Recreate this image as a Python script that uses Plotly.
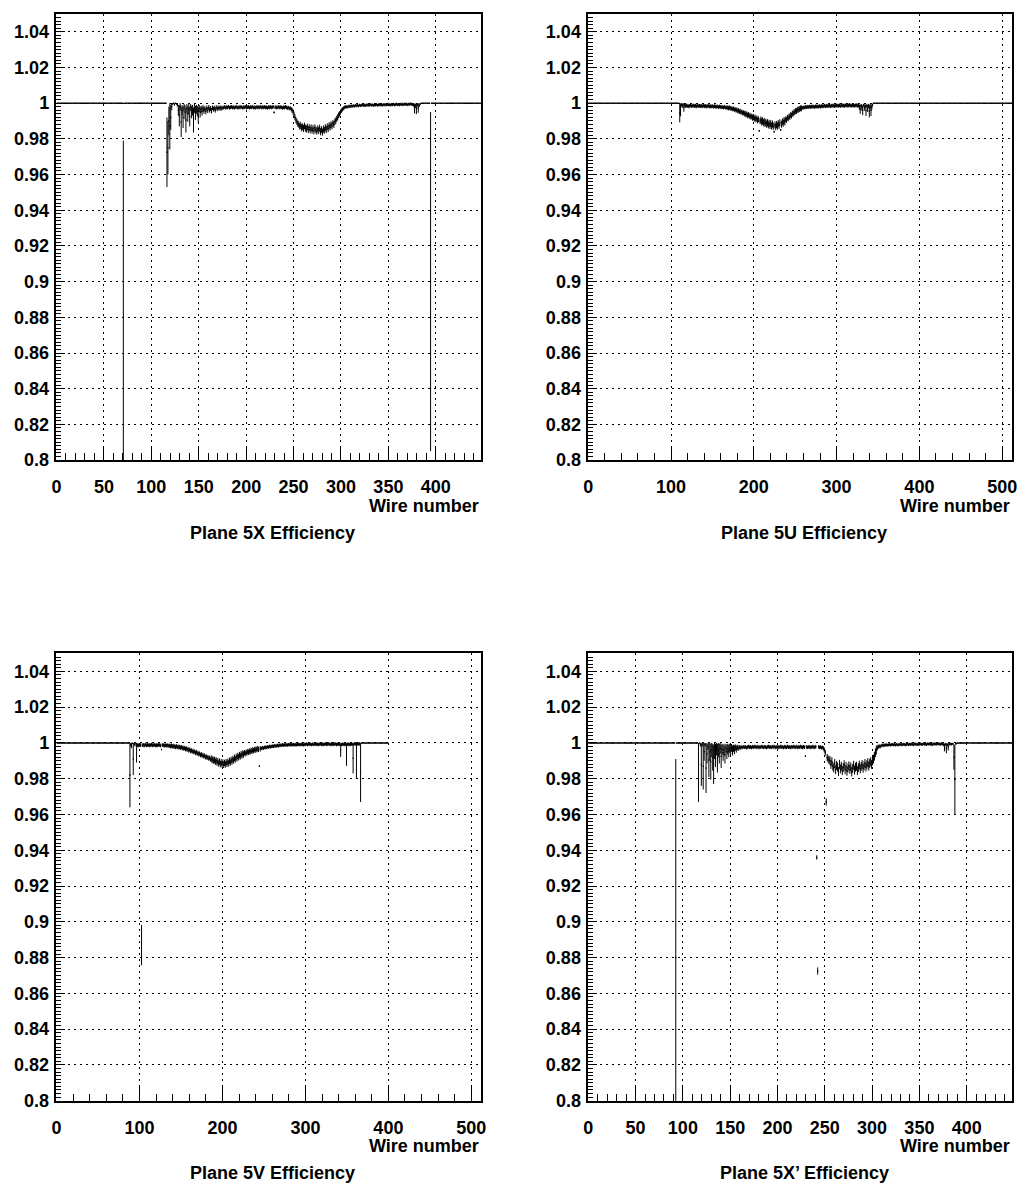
import plotly.graph_objects as go

# ---------------- data (efficiency and error in units of 1e-4) ----------------
# Plane 5X : 448 wires, efficiency 1 outside the listed range
x5_nwires = 448
x5_start = 115
x5_eff = [
    10000, 9725, 9750, 9900, 9870, 9920, 9980, 9995, 10000, 9993,
    10000, 9996, 9990, 9960, 9930, 9980, 9895, 9960, 9920, 9975,
    9950, 9905, 9970, 9940, 9965, 9925, 9975, 9950, 9960, 9905,
    9970, 9945, 9965, 9955, 9935, 9970, 9950, 9965, 9955, 9970,
    9960, 9968, 9955, 9972, 9960, 9975, 9962, 9970, 9958, 9974,
    9966, 9972, 9962, 9976, 9968, 9974, 9970, 9977, 9968, 9975,
    9972, 9976, 9979, 9973, 9978, 9975, 9980, 9974, 9977, 9979,
    9975, 9978, 9973, 9977, 9980, 9976, 9974, 9978, 9975, 9979,
    9977, 9973, 9978, 9976, 9980, 9975, 9977, 9979, 9974, 9978,
    9976, 9980, 9975, 9977, 9973, 9978, 9976, 9979, 9975, 9977,
    9980, 9974, 9978, 9976, 9979, 9975, 9977, 9973, 9978, 9976,
    9979, 9975, 9977, 9980, 9948, 9976, 9978, 9974, 9977, 9979,
    9975, 9978, 9976, 9973, 9977, 9975, 9979, 9976, 9972, 9975,
    9970, 9972, 9966, 9960, 9950, 9935, 9920, 9905, 9895, 9885,
    9880, 9870, 9875, 9862, 9868, 9858, 9872, 9860, 9855, 9866,
    9852, 9863, 9850, 9861, 9848, 9858, 9845, 9862, 9850, 9843,
    9856, 9847, 9860, 9840, 9852, 9838, 9855, 9848, 9862, 9852,
    9868, 9858, 9874, 9866, 9880, 9872, 9888, 9880, 9895, 9902,
    9912, 9920, 9932, 9940, 9950, 9958, 9965, 9970, 9975, 9978,
    9980, 9977, 9982, 9979, 9984, 9981, 9985, 9982, 9986, 9983,
    9987, 9985, 9988, 9984, 9989, 9986, 9988, 9990, 9987, 9989,
    9986, 9990, 9988, 9991, 9987, 9989, 9992, 9988, 9990, 9987,
    9991, 9989, 9992, 9988, 9990, 9993, 9989, 9991, 9988, 9992,
    9990, 9993, 9989, 9991, 9994, 9990, 9992, 9989, 9993, 9991,
    9994, 9990, 9992, 9995, 9991, 9993, 9990, 9994, 9992, 9995,
    9991, 9993, 9996, 9992, 9994, 9991, 9995, 9993, 9996, 9994,
    9992, 9990, 9970, 9985, 9968, 9990, 9972, 9988, 9995, 10000,
    10000, 10000, 10000, 10000, 10000, 10000, 10000, 10000, 10000, 9000,
]
x5_err = [
    0, 195, 150, 80, 130, 70, 20, 5, 0, 7,
    0, 4, 10, 30, 60, 20, 85, 30, 60, 20,
    40, 70, 25, 45, 30, 55, 20, 35, 30, 70,
    25, 40, 25, 30, 45, 20, 30, 20, 25, 20,
    20, 15, 18, 15, 16, 14, 15, 14, 16, 13,
    14, 13, 15, 12, 13, 12, 12, 11, 12, 11,
    10, 10, 10, 10, 10, 10, 10, 10, 10, 10,
    10, 10, 10, 10, 10, 10, 10, 10, 10, 10,
    10, 10, 10, 10, 10, 10, 10, 10, 10, 10,
    10, 10, 10, 10, 10, 10, 10, 10, 10, 10,
    10, 10, 10, 10, 10, 10, 10, 10, 10, 10,
    10, 10, 10, 10, 5, 10, 10, 10, 10, 10,
    10, 10, 10, 10, 10, 10, 10, 10, 10, 10,
    10, 10, 12, 14, 15, 16, 16, 17, 17, 18,
    18, 19, 19, 20, 19, 20, 19, 20, 20, 19,
    20, 19, 20, 20, 19, 20, 20, 19, 20, 20,
    19, 20, 20, 20, 19, 20, 20, 19, 20, 20,
    19, 20, 19, 20, 19, 19, 18, 19, 18, 18,
    17, 17, 16, 15, 14, 13, 12, 11, 10, 10,
    8, 8, 8, 8, 8, 8, 8, 8, 8, 8,
    8, 8, 8, 8, 8, 8, 8, 8, 8, 8,
    8, 8, 8, 8, 8, 8, 8, 8, 8, 8,
    8, 8, 8, 8, 8, 8, 8, 8, 8, 8,
    8, 8, 8, 8, 8, 8, 8, 8, 8, 8,
    8, 8, 8, 8, 8, 8, 8, 8, 8, 8,
    8, 8, 8, 8, 8, 8, 8, 8, 8, 8,
    8, 10, 28, 12, 30, 10, 26, 10, 5, 0,
    0, 0, 0, 0, 0, 0, 0, 0, 0, 950,
]
x5_extra_wire = [70]
x5_extra_eff = [8800]
x5_extra_err = [990]

# Plane 5U : 512 wires
u5_nwires = 512
u5_start = 108
u5_eff = [
    10000, 10000, 9945, 9962, 9990, 9985, 9993, 9975, 9988, 9984,
    9987, 9983, 9986, 9981, 9985, 9988, 9982, 9986, 9984, 9987,
    9983, 9986, 9981, 9985, 9987, 9982, 9985, 9983, 9986, 9981,
    9984, 9986, 9982, 9985, 9980, 9984, 9982, 9985, 9981, 9983,
    9980, 9984, 9982, 9979, 9983, 9981, 9978, 9982, 9980, 9977,
    9981, 9979, 9976, 9980, 9977, 9975, 9979, 9976, 9973, 9977,
    9974, 9971, 9975, 9972, 9968, 9971, 9966, 9969, 9963, 9966,
    9960, 9963, 9956, 9959, 9952, 9955, 9948, 9951, 9944, 9947,
    9940, 9943, 9935, 9939, 9931, 9935, 9927, 9931, 9922, 9926,
    9918, 9922, 9913, 9918, 9909, 9914, 9904, 9910, 9845, 9900,
    9905, 9895, 9901, 9890, 9897, 9886, 9893, 9882, 9890, 9878,
    9887, 9875, 9885, 9872, 9882, 9870, 9840, 9878, 9868, 9880,
    9872, 9885, 9876, 9890, 9850, 9882, 9895, 9888, 9902, 9895,
    9910, 9905, 9918, 9914, 9926, 9922, 9934, 9930, 9942, 9940,
    9950, 9948, 9957, 9955, 9963, 9961, 9968, 9966, 9972, 9970,
    9975, 9973, 9977, 9975, 9979, 9976, 9980, 9977, 9979, 9981,
    9978, 9980, 9982, 9979, 9981, 9978, 9982, 9980, 9983, 9979,
    9981, 9984, 9980, 9982, 9985, 9981, 9983, 9986, 9982, 9984,
    9986, 9983, 9985, 9987, 9982, 9986, 9984, 9987, 9985, 9983,
    9986, 9988, 9984, 9987, 9985, 9988, 9983, 9986, 9989, 9985,
    9987, 9984, 9988, 9986, 9989, 9985, 9987, 9990, 9986, 9988,
    9984, 9989, 9987, 9985, 9988, 9986, 9990, 9984, 9987, 9978,
    9965, 9985, 9975, 9960, 9988, 9975, 9982, 9958, 9986, 9970,
    9984, 9955, 9980, 9960, 9978, 9990, 10000, 10000,
]
u5_err = [
    0, 0, 53, 36, 10, 12, 7, 23, 10, 10,
    10, 10, 10, 10, 10, 10, 10, 10, 10, 10,
    10, 10, 10, 10, 10, 10, 10, 10, 10, 10,
    10, 10, 10, 10, 10, 10, 10, 10, 10, 10,
    10, 10, 10, 10, 10, 10, 10, 10, 10, 10,
    10, 10, 10, 10, 10, 10, 10, 10, 10, 10,
    12, 12, 12, 12, 12, 12, 12, 12, 12, 12,
    13, 13, 13, 13, 13, 13, 13, 13, 13, 13,
    15, 15, 15, 15, 15, 15, 15, 15, 15, 15,
    17, 17, 17, 17, 17, 17, 17, 17, 5, 17,
    20, 20, 20, 20, 20, 20, 20, 20, 20, 20,
    20, 20, 20, 20, 20, 20, 5, 20, 20, 20,
    20, 20, 20, 20, 5, 20, 20, 20, 20, 20,
    16, 16, 16, 16, 16, 16, 16, 16, 16, 16,
    16, 16, 16, 16, 16, 16, 16, 16, 16, 16,
    10, 10, 10, 10, 10, 10, 10, 10, 10, 10,
    10, 10, 10, 10, 10, 10, 10, 10, 10, 10,
    10, 10, 10, 10, 10, 10, 10, 10, 10, 10,
    10, 10, 10, 10, 10, 10, 10, 10, 10, 10,
    10, 10, 10, 10, 10, 10, 10, 10, 10, 10,
    10, 10, 10, 10, 10, 10, 10, 10, 10, 10,
    10, 10, 10, 10, 10, 10, 10, 10, 10, 15,
    25, 10, 18, 28, 8, 18, 12, 30, 10, 20,
    12, 35, 15, 32, 15, 8, 0, 0,
]

# Plane 5V : axis 512 wires, data only on wires 0..399
v5_nwires = 512
v5_ndata = 400
v5_start = 86
v5_eff = [
    10000, 10000, 9820, 9990, 9985, 10000, 9910, 9995, 9990, 10000,
    9945, 9988, 9985, 9990, 9986, 9989, 8870, 9987, 9990, 9985,
    9988, 9991, 9986, 9989, 9987, 9990, 9985, 9988, 9991, 9986,
    9989, 9987, 9990, 9985, 9988, 9986, 9990, 9987, 9989, 9985,
    9963, 9988, 9986, 9989, 9984, 9987, 9985, 9988, 9983, 9986,
    9984, 9981, 9985, 9982, 9979, 9983, 9980, 9977, 9981, 9978,
    9975, 9979, 9976, 9973, 9977, 9970, 9974, 9968, 9972, 9965,
    9969, 9962, 9966, 9958, 9963, 9955, 9959, 9951, 9956, 9948,
    9952, 9944, 9949, 9940, 9945, 9936, 9941, 9932, 9937, 9928,
    9933, 9924, 9929, 9920, 9925, 9916, 9921, 9912, 9917, 9908,
    9913, 9904, 9909, 9900, 9905, 9895, 9902, 9890, 9898, 9885,
    9895, 9882, 9892, 9880, 9890, 9878, 9888, 9880, 9892, 9884,
    9895, 9886, 9900, 9890, 9905, 9896, 9910, 9902, 9916, 9908,
    9922, 9914, 9927, 9920, 9932, 9925, 9937, 9930, 9941, 9935,
    9945, 9940, 9948, 9944, 9952, 9947, 9955, 9950, 9958, 9953,
    9961, 9956, 9963, 9959, 9966, 9962, 9968, 9964, 9870, 9967,
    9972, 9968, 9974, 9970, 9976, 9972, 9978, 9974, 9979, 9976,
    9981, 9977, 9982, 9979, 9983, 9980, 9985, 9981, 9986, 9982,
    9987, 9983, 9988, 9985, 9989, 9986, 9990, 9987, 9988, 9991,
    9987, 9990, 9988, 9991, 9989, 9992, 9988, 9991, 9989, 9992,
    9990, 9988, 9992, 9989, 9991, 9993, 9989, 9992, 9990, 9993,
    9991, 9989, 9993, 9990, 9992, 9994, 9990, 9993, 9991, 9994,
    9992, 9990, 9994, 9991, 9993, 9995, 9991, 9994, 9992, 9990,
    9994, 9992, 9995, 9991, 9993, 9990, 9994, 9992, 9995, 9991,
    9993, 9996, 9992, 9994, 9990, 9995, 9993, 9991, 9994, 9992,
    9995, 9990, 9994, 9992, 9991, 9993, 9960, 9990, 9994, 9991,
    9993, 9990, 9994, 9935, 9992, 9995, 9990, 9993, 9991, 9994,
    9992, 9915, 9993, 9996, 9994, 9900, 9995, 9993, 9996, 9994,
    9835, 10000,
]
v5_err = [
    0, 0, 180, 10, 15, 0, 90, 5, 10, 0,
    55, 10, 10, 10, 10, 10, 113, 10, 10, 10,
    10, 10, 10, 10, 10, 10, 10, 10, 10, 10,
    10, 10, 10, 10, 10, 10, 10, 10, 10, 10,
    3, 10, 10, 10, 10, 10, 10, 10, 10, 10,
    12, 12, 12, 12, 12, 12, 12, 12, 12, 12,
    12, 12, 12, 12, 12, 12, 12, 12, 12, 12,
    12, 12, 12, 12, 12, 12, 12, 12, 12, 12,
    12, 12, 12, 12, 12, 12, 12, 12, 12, 12,
    12, 12, 12, 12, 12, 12, 12, 12, 12, 12,
    18, 18, 18, 18, 18, 18, 18, 18, 18, 18,
    18, 18, 18, 18, 18, 18, 18, 18, 18, 18,
    18, 18, 18, 18, 18, 18, 18, 18, 18, 18,
    18, 18, 18, 18, 18, 18, 18, 18, 18, 18,
    15, 15, 15, 15, 15, 15, 15, 15, 15, 15,
    15, 15, 15, 15, 15, 15, 15, 15, 5, 15,
    9, 9, 9, 9, 9, 9, 9, 9, 9, 9,
    9, 9, 9, 9, 9, 9, 9, 9, 9, 9,
    9, 9, 9, 9, 9, 9, 9, 9, 9, 9,
    9, 9, 9, 9, 9, 9, 9, 9, 9, 9,
    9, 9, 9, 9, 9, 9, 9, 9, 9, 9,
    9, 9, 9, 9, 9, 9, 9, 9, 9, 9,
    9, 9, 9, 9, 9, 9, 9, 9, 9, 9,
    9, 9, 9, 9, 9, 9, 9, 9, 9, 9,
    9, 9, 9, 9, 9, 9, 9, 9, 9, 9,
    9, 9, 9, 9, 9, 9, 38, 9, 9, 9,
    9, 9, 9, 63, 9, 9, 9, 9, 9, 9,
    9, 85, 9, 9, 9, 100, 9, 9, 9, 9,
    165, 0,
]

# Plane 5X' : 448 wires
xp_nwires = 448
xp_start = 115
xp_eff = [
    10000, 9835, 10000, 9990, 9880, 9990, 9870, 9950, 9990, 9860,
    9940, 9980, 9905, 9950, 9895, 9960, 9920, 9880, 9955, 9930,
    9965, 9915, 9960, 9940, 9970, 9925, 9965, 9945, 9960, 9935,
    9970, 9950, 9965, 9955, 9970, 9960, 9972, 9958, 9970, 9962,
    9974, 9966, 9975, 9970, 9977, 9972, 9978, 9974, 9976, 9979,
    9975, 9978, 9973, 9977, 9980, 9976, 9978, 9974, 9979, 9976,
    9978, 9980, 9975, 9977, 9979, 9974, 9978, 9976, 9980, 9977,
    9975, 9979, 9977, 9974, 9978, 9980, 9976, 9978, 9975, 9979,
    9977, 9980, 9974, 9978, 9976, 9979, 9975, 9977, 9980, 9976,
    9978, 9974, 9979, 9977, 9975, 9980, 9976, 9978, 9974, 9979,
    9976, 9978, 9980, 9975, 9977, 9979, 9974, 9978, 9976, 9980,
    9977, 9975, 9979, 9976, 9926, 9978, 9975, 9977, 9979, 9974,
    9978, 9976, 9980, 9975, 9977, 9979, 9974, 9976, 9978, 9975,
    9977, 9973, 9975, 9970, 9960, 9945, 9930, 9918, 9910, 9905,
    9900, 9880, 9895, 9870, 9860, 9885, 9850, 9875, 9865, 9840,
    9880, 9855, 9870, 9845, 9862, 9878, 9850, 9868, 9842, 9860,
    9872, 9852, 9866, 9838, 9858, 9875, 9848, 9864, 9870, 9845,
    9862, 9876, 9855, 9868, 9880, 9858, 9872, 9885, 9865, 9878,
    9890, 9870, 9886, 9895, 9880, 9900, 9910, 9926, 9945, 9960,
    9972, 9978, 9982, 9979, 9984, 9986, 9988, 9985, 9989, 9987,
    9990, 9987, 9989, 9991, 9988, 9990, 9992, 9989, 9991, 9988,
    9992, 9990, 9988, 9991, 9993, 9989, 9992, 9990, 9993, 9991,
    9989, 9992, 9994, 9990, 9993, 9991, 9994, 9992, 9990, 9993,
    9995, 9991, 9993, 9990, 9994, 9992, 9995, 9991, 9993, 9996,
    9992, 9994, 9991, 9995, 9993, 9996, 9992, 9994, 9990, 9995,
    9993, 9996, 9992, 9994, 9997, 9993, 9995, 9992, 9996, 9994,
    9990, 9975, 9992, 9970, 9990, 9978, 9993, 9995, 9992, 9996,
    9994, 9920, 9795, 9995, 9998, 10000, 10000, 10000,
]
xp_err = [
    0, 165, 0, 10, 120, 10, 130, 50, 10, 140,
    55, 20, 95, 50, 100, 40, 75, 110, 45, 65,
    35, 80, 40, 55, 30, 65, 30, 45, 35, 50,
    25, 40, 30, 35, 25, 30, 22, 28, 20, 25,
    18, 20, 15, 15, 12, 12, 10, 10, 10, 10,
    10, 10, 10, 10, 10, 10, 10, 10, 10, 10,
    10, 10, 10, 10, 10, 10, 10, 10, 10, 10,
    10, 10, 10, 10, 10, 10, 10, 10, 10, 10,
    10, 10, 10, 10, 10, 10, 10, 10, 10, 10,
    10, 10, 10, 10, 10, 10, 10, 10, 10, 10,
    10, 10, 10, 10, 10, 10, 10, 10, 10, 10,
    10, 10, 10, 10, 5, 10, 10, 10, 10, 10,
    10, 10, 10, 10, 10, 10, 10, 10, 10, 10,
    10, 10, 10, 12, 14, 16, 18, 20, 20, 22,
    25, 25, 25, 25, 25, 25, 25, 25, 25, 25,
    25, 25, 25, 25, 25, 25, 25, 25, 25, 25,
    25, 25, 25, 25, 25, 25, 25, 25, 25, 25,
    25, 25, 25, 25, 25, 25, 25, 25, 25, 25,
    25, 25, 25, 25, 25, 25, 25, 25, 25, 25,
    15, 12, 10, 10, 9, 9, 9, 9, 9, 9,
    8, 8, 8, 8, 8, 8, 8, 8, 8, 8,
    8, 8, 8, 8, 8, 8, 8, 8, 8, 8,
    8, 8, 8, 8, 8, 8, 8, 8, 8, 8,
    8, 8, 8, 8, 8, 8, 8, 8, 8, 8,
    8, 8, 8, 8, 8, 8, 8, 8, 8, 8,
    8, 8, 8, 8, 8, 8, 8, 8, 8, 8,
    8, 22, 8, 28, 8, 20, 8, 6, 8, 5,
    6, 70, 195, 5, 2, 0, 0, 0,
]
xp_extra_wire = [92, 241, 242, 251]
xp_extra_eff = [8800, 9360, 8725, 9670]
xp_extra_err = [1110, 12, 20, 20]

flat_eff = 10000  # efficiency level of the quiet wires (1.0)

titles = ["Plane 5X Efficiency", "Plane 5U Efficiency",
          "Plane 5V Efficiency", "Plane 5X’ Efficiency"]
x_title = "Wire number"
y_ticks = [0.8, 0.82, 0.84, 0.86, 0.88, 0.9, 0.92, 0.94, 0.96, 0.98, 1.0, 1.02, 1.04]
y_ticktext = ["0.8", "0.82", "0.84", "0.86", "0.88", "0.9", "0.92", "0.94",
              "0.96", "0.98", "1", "1.02", "1.04"]
x_ticks_448 = [0, 50, 100, 150, 200, 250, 300, 350, 400]
x_ticks_512 = [0, 100, 200, 300, 400, 500]


def build(ndata, start, eff, err, ex_w=(), ex_e=(), ex_s=()):
    e = [flat_eff] * ndata
    s = [0] * ndata
    for i, (v, d) in enumerate(zip(eff, err)):
        e[start + i] = v
        s[start + i] = d
    for w, v, d in zip(ex_w, ex_e, ex_s):
        e[w] = v
        s[w] = d
    x = [i + 0.5 for i in range(ndata)]
    return x, [v / 1e4 for v in e], [d / 1e4 for d in s]


panels = [
    build(x5_nwires, x5_start, x5_eff, x5_err, x5_extra_wire, x5_extra_eff, x5_extra_err),
    build(u5_nwires, u5_start, u5_eff, u5_err),
    build(v5_ndata, v5_start, v5_eff, v5_err),
    build(xp_nwires, xp_start, xp_eff, xp_err, xp_extra_wire, xp_extra_eff, xp_extra_err),
]
x_ranges = [x5_nwires, u5_nwires, v5_nwires, xp_nwires]
x_ticks = [x_ticks_448, x_ticks_512, x_ticks_512, x_ticks_448]
x_minor = [10, 20, 20, 10]

W, H = 1027, 1194
frames_px = [  # left, right, top, bottom in pixels
    (52, 481, 14, 464), (589, 1017, 14, 464),
    (52, 481, 659, 1110), (589, 1017, 659, 1110),
]

FONT = "Liberation Sans, Arial, sans-serif"
fig = go.Figure()
annotations = []
for k in range(4):
    x, y, e = panels[k]
    n = "" if k == 0 else str(k + 1)
    fig.add_trace(go.Scatter(
        x=x, y=y, mode="markers", xaxis="x" + n, yaxis="y" + n,
        marker=dict(size=1, color="black"),
        error_y=dict(type="data", array=e, visible=True, width=0,
                     thickness=1, color="black"),
        error_x=dict(type="constant", value=0.5, visible=True, width=0,
                     thickness=1.5, color="black"),
        showlegend=False, hoverinfo="skip",
    ))
    l, r, t, b = frames_px[k]
    xd = [l / W, r / W]
    yd = [1 - b / H, 1 - t / H]
    grid = dict(showgrid=True, gridcolor="black", gridwidth=1, griddash="2px,4px")
    axis_common = dict(showline=True, linecolor="black", linewidth=1.5, mirror=True,
                       ticks="inside", tickcolor="black", tickwidth=1, zeroline=False,
                       tickfont=dict(family=FONT, size=18, color="black", weight="bold"),
                       **grid)
    fig.layout["xaxis" + n] = dict(
        domain=xd, range=[0, x_ranges[k]], anchor="y" + n,
        tickmode="array", tickvals=x_ticks[k], ticktext=[str(v) for v in x_ticks[k]],
        ticklen=14, ticklabelstandoff=10,
        minor=dict(ticks="inside", ticklen=7, tickmode="linear", tick0=0,
                   dtick=x_minor[k], tickcolor="black", tickwidth=1, showgrid=False),
        **axis_common)
    fig.layout["yaxis" + n] = dict(
        domain=yd, range=[0.8, 1.05], anchor="x" + n,
        tickmode="array", tickvals=y_ticks, ticktext=y_ticktext,
        ticklen=9, ticklabelstandoff=2,
        minor=dict(ticks="inside", ticklen=5, tickmode="linear", tick0=0.8,
                   dtick=0.002, tickcolor="black", tickwidth=1, showgrid=False),
        **axis_common)
    annotations.append(dict(
        text=x_title, xref="paper", yref="paper", x=r / W, y=1 - (b + 46) / H,
        xanchor="right", yanchor="middle", showarrow=False,
        font=dict(family=FONT, size=18, color="black", weight="bold")))
    annotations.append(dict(
        text=titles[k], xref="paper", yref="paper", x=((l + r) / 2 + 4) / W,
        y=1 - (b + 73) / H, xanchor="center", yanchor="middle", showarrow=False,
        font=dict(family=FONT, size=18, color="black", weight="bold")))

fig.update_layout(
    width=W, height=H, margin=dict(l=0, r=0, t=0, b=0),
    paper_bgcolor="white", plot_bgcolor="white",
    annotations=annotations,
)
fig.write_html("out.html")
